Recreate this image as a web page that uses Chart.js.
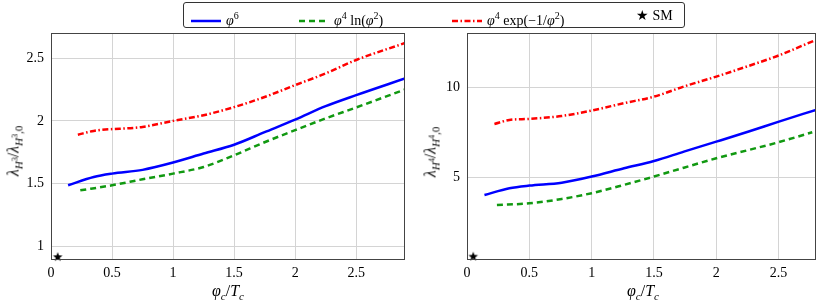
<!DOCTYPE html>
<html>
<head>
<meta charset="utf-8">
<script src="https://cdn.jsdelivr.net/npm/chart.js@4"></script>
<style>
  body { margin: 0; background: #fff; font-family: "Liberation Serif", serif; }
  #wrap { position: relative; width: 822px; height: 304px; }
  canvas { position: absolute; top: 0; }
  .legend {
    position: absolute; left: 183px; top: 2px; width: 502px; height: 26px;
    border: 1px solid #333; border-radius: 3px; box-sizing: border-box;
    font-size: 14px; color: #000;
  }
  .item { position: absolute; top: 0; height: 26px; line-height: 26px; white-space: nowrap; }
  .item svg { vertical-align: middle; margin-right: 5px; }
  .ttl { position: absolute; font-size: 16px; white-space: nowrap; color: #000; line-height: 1; }
  .ttl sub { font-size: 11px; vertical-align: -4px; }
  .ttl sub sup { font-size: 8px; vertical-align: 5px; }
  .rot { transform: translate(-50%, -50%) rotate(-90deg); }
  .hx { transform: translate(-50%, -50%); }
  i { font-style: italic; }
</style>
</head>
<body>
<div id="wrap">
  <canvas id="left" width="411" height="304" style="left:0;width:411px;height:304px"></canvas>
  <canvas id="right" width="411" height="304" style="left:411px;width:411px;height:304px"></canvas>

  <div class="legend">
    <div class="item" style="left:7px"><svg width="30" height="6"><line x1="0" y1="3" x2="30" y2="3" stroke="#0000ff" stroke-width="2.5"/></svg><i>φ</i><sup style="font-size:10px">6</sup></div>
    <div class="item" style="left:115px"><svg width="30" height="6"><line x1="0" y1="3" x2="30" y2="3" stroke="#119911" stroke-width="2.5" stroke-dasharray="6 4"/></svg><i>φ</i><sup style="font-size:10px">4</sup> ln(<i>φ</i><sup style="font-size:10px">2</sup>)</div>
    <div class="item" style="left:268px"><svg width="30" height="6"><line x1="0" y1="3" x2="30" y2="3" stroke="#ff0000" stroke-width="2.5" stroke-dasharray="6 2.5 1.5 2.5"/></svg><i>φ</i><sup style="font-size:10px">4</sup> exp(−1/<i>φ</i><sup style="font-size:10px">2</sup>)</div>
    <div class="item" style="left:452px">★ SM</div>
  </div>

  <div class="ttl rot" style="left:15px;top:151px"><i>λ</i><sub><i>H</i><sup>3</sup></sub>/<i>λ</i><sub><i>H</i><sup>3</sup>,0</sub></div>
  <div class="ttl hx" style="left:228px;top:292px"><i>φ</i><sub><i>c</i></sub>/<i>T</i><sub><i>c</i></sub></div>
  <div class="ttl rot" style="left:432px;top:152px"><i>λ</i><sub><i>H</i><sup>4</sup></sub>/<i>λ</i><sub><i>H</i><sup>4</sup>,0</sub></div>
  <div class="ttl hx" style="left:643px;top:292px"><i>φ</i><sub><i>c</i></sub>/<i>T</i><sub><i>c</i></sub></div>
</div>

<script>
// ---- data: left panel (trilinear coupling) ----
const h3Phi6X = [0.14, 0.35, 0.5, 0.75, 1.0, 1.25, 1.5, 1.75, 2.0, 2.25, 2.5, 2.9];
const h3Phi6Y = [1.487, 1.553, 1.58, 1.61, 1.668, 1.74, 1.81, 1.91, 2.01, 2.117, 2.205, 2.338];
const h3LogX = [0.24, 0.5, 0.75, 1.0, 1.25, 1.5, 1.75, 2.0, 2.25, 2.5, 2.9];
const h3LogY = [1.447, 1.487, 1.535, 1.58, 1.633, 1.726, 1.83, 1.926, 2.02, 2.107, 2.25];
const h3ExpX = [0.22, 0.35, 0.75, 1.0, 1.25, 1.5, 1.75, 2.0, 2.25, 2.5, 2.9];
const h3ExpY = [1.89, 1.92, 1.952, 2.0, 2.045, 2.11, 2.19, 2.285, 2.378, 2.485, 2.62];
const h3SM = [0.055, 0.915];

// ---- data: right panel (quartic coupling) ----
const h4Phi6X = [0.14, 0.34, 0.5, 0.76, 1.0, 1.26, 1.5, 1.74, 2.0, 2.26, 2.49, 2.8];
const h4Phi6Y = [4.04, 4.41, 4.56, 4.72, 5.06, 5.52, 5.92, 6.44, 6.99, 7.55, 8.07, 8.75];
const h4LogX = [0.24, 0.5, 0.76, 1.0, 1.26, 1.5, 1.74, 2.0, 2.26, 2.49, 2.77];
const h4LogY = [3.49, 3.58, 3.82, 4.14, 4.6, 5.06, 5.55, 6.07, 6.53, 6.94, 7.51];
const h4ExpX = [0.22, 0.34, 0.5, 0.76, 1.0, 1.26, 1.5, 1.74, 2.0, 2.26, 2.49, 2.8];
const h4ExpY = [7.97, 8.19, 8.25, 8.41, 8.71, 9.12, 9.48, 10.04, 10.59, 11.18, 11.73, 12.62];
const h4SM = [0.05, 0.63];

// tick labels
const xTicksLeft = [0, 0.5, 1, 1.5, 2, 2.5];
const xTicksRight = [0, 0.5, 1, 1.5, 2, 2.5];
const yTicksLeft = [1, 1.5, 2, 2.5];
const yTicksRight = [5, 10];

const BLUE = "#0000ff", GREEN = "#119911", RED = "#ff0000";
const tickFont = { family: "Liberation Serif", size: 14 };

// five point star used as the SM marker
const makeStar = (r) => {
  const c = document.createElement("canvas");
  c.width = c.height = 2 * r + 2;
  const g = c.getContext("2d");
  g.fillStyle = "#000";
  g.beginPath();
  for (let i = 0; i < 10; i++) {
    const rad = i % 2 ? r * 0.42 : r;
    const a = -Math.PI / 2 + (i * Math.PI) / 5;
    g.lineTo(r + 1 + rad * Math.cos(a), r + 1 + rad * Math.sin(a));
  }
  g.closePath();
  g.fill();
  return c;
};
const starImg = makeStar(5);

const zip = (xs, ys) => xs.map((x, i) => ({ x, y: ys[i] }));

// draw the full box around the plot area
const framePlugin = {
  id: "frame",
  afterDraw(chart) {
    const { ctx, chartArea: a } = chart;
    ctx.save();
    ctx.strokeStyle = "#444";
    ctx.lineWidth = 1;
    ctx.strokeRect(Math.round(a.left) + 0.5, Math.round(a.top) + 0.5,
      Math.round(a.right - a.left) - 1, Math.round(a.bottom - a.top));
    ctx.restore();
  }
};

const line = (data, color, dash) => ({
  data, borderColor: color, borderWidth: 2.5, borderDash: dash,
  pointRadius: 0, fill: false, cubicInterpolationMode: "monotone"
});

const buildChart = (id, cfg) => new Chart(document.getElementById(id), {
  type: "line",
  data: {
    datasets: [
      line(zip(cfg.phi6X, cfg.phi6Y), BLUE, []),
      line(zip(cfg.logX, cfg.logY), GREEN, [6, 4]),
      line(zip(cfg.expX, cfg.expY), RED, [6, 2.5, 1.5, 2.5]),
      {
        data: [{ x: cfg.sm[0], y: cfg.sm[1] }], showLine: false,
        pointStyle: starImg, pointRadius: 5, clip: false
      }
    ]
  },
  options: {
    responsive: false,
    animation: false,
    layout: { padding: { top: 33, right: cfg.padRight, left: 0, bottom: 0 } },
    plugins: { legend: { display: false }, tooltip: { enabled: false } },
    scales: {
      x: {
        type: "linear", min: 0, max: cfg.xMax,
        grid: { color: "#d4d4d4", drawTicks: false },
        border: { display: false },
        ticks: { font: tickFont, color: "#000", padding: 6, maxRotation: 0, callback: (v) => String(v) },
        afterBuildTicks: (s) => { s.ticks = cfg.xTicks.map((v) => ({ value: v })); },
        afterFit: (s) => { s.height = 45; }
      },
      y: {
        type: "linear", min: cfg.yMin, max: cfg.yMax,
        grid: { color: "#d4d4d4", drawTicks: false },
        border: { display: false },
        ticks: { font: tickFont, color: "#000", padding: 7, callback: (v) => String(v) },
        afterBuildTicks: (s) => { s.ticks = cfg.yTicks.map((v) => ({ value: v })); },
        afterFit: (s) => { s.width = cfg.yWidth; }
      }
    }
  },
  plugins: [framePlugin]
});

buildChart("left", {
  phi6X: h3Phi6X, phi6Y: h3Phi6Y, logX: h3LogX, logY: h3LogY,
  expX: h3ExpX, expY: h3ExpY, sm: h3SM,
  xMax: 2.9, yMin: 0.9, yMax: 2.7, xTicks: xTicksLeft, yTicks: yTicksLeft,
  yWidth: 51, padRight: 5
});

buildChart("right", {
  phi6X: h4Phi6X, phi6Y: h4Phi6Y, logX: h4LogX, logY: h4LogY,
  expX: h4ExpX, expY: h4ExpY, sm: h4SM,
  xMax: 2.8, yMin: 0.5, yMax: 13, xTicks: xTicksRight, yTicks: yTicksRight,
  yWidth: 56, padRight: 1
});
</script>
</body>
</html>
